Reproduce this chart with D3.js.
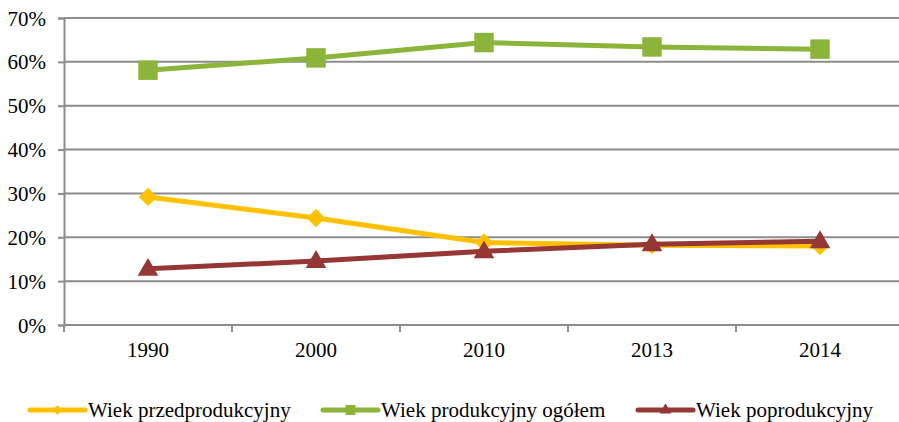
<!DOCTYPE html>
<html>
<head>
<meta charset="utf-8">
<script src="https://cdn.jsdelivr.net/npm/d3@7"></script>
<style>
  body { margin: 0; background: #fff; }
  svg { display: block; }
</style>
</head>
<body>
<script>
// data
const years = ["1990", "2000", "2010", "2013", "2014"];
const przed = [29.2, 24.4, 18.8, 18.2, 18.0];
const prod = [58.1, 60.9, 64.4, 63.4, 62.9];
const poprod = [12.8, 14.6, 16.8, 18.4, 19.1];
const yTicks = [0, 10, 20, 30, 40, 50, 60, 70];
const seriesNames = ["Wiek przedprodukcyjny", "Wiek produkcyjny ogółem", "Wiek poprodukcyjny"];

const w = 899, h = 422;
const plotLeft = 64, plotTop = 18, plotBottom = 325;
const band = 168;
const fontSize = "21px";
const fontFamily = "'Liberation Serif', 'DejaVu Serif', serif";

const series = [
  { name: seriesNames[0], values: przed, color: "#FFC000", marker: d3.symbolDiamond2, size: 215, legendSize: 60 },
  { name: seriesNames[1], values: prod, color: "#8CB43A", marker: d3.symbolSquare, size: 380, legendSize: 100 },
  { name: seriesNames[2], values: poprod, color: "#953735", marker: d3.symbolTriangle, size: 185, legendSize: 60 }
];

const svg = d3.select("body").append("svg")
  .attr("width", w)
  .attr("height", h);

const xScale = d3.scaleBand()
  .domain(years)
  .range([plotLeft, plotLeft + band * years.length]);

const yScale = d3.scaleLinear()
  .domain([0, 70])
  .range([plotBottom, plotTop]);

// gridlines
svg.append("g")
  .selectAll("line")
  .data(yTicks.slice(1))
  .enter()
  .append("line")
  .attr("x1", plotLeft)
  .attr("x2", plotLeft + band * years.length)
  .attr("y1", d => yScale(d))
  .attr("y2", d => yScale(d))
  .attr("stroke", "#8c8c8c")
  .attr("stroke-width", 2);

// y axis
const yAxis = d3.axisLeft(yScale)
  .tickValues(yTicks)
  .tickSize(6)
  .tickPadding(12)
  .tickFormat(d => d + "%");

const gy = svg.append("g")
  .attr("transform", `translate(${plotLeft}, 0)`)
  .call(yAxis);
gy.select(".domain").attr("stroke", "#8c8c8c").attr("stroke-width", 2);
gy.selectAll(".tick line").attr("stroke", "#8c8c8c").attr("stroke-width", 2);
gy.selectAll("text")
  .style("font-family", fontFamily)
  .style("font-size", fontSize)
  .attr("fill", "#000")
  .attr("dy", "0.34em");

// x axis
const xAxis = d3.axisBottom(xScale).tickSize(0).tickPadding(17);
const gx = svg.append("g")
  .attr("transform", `translate(0, ${plotBottom})`)
  .call(xAxis);
gx.select(".domain").remove();
gx.selectAll("text")
  .style("font-family", fontFamily)
  .style("font-size", fontSize)
  .attr("fill", "#000");

svg.append("line")
  .attr("x1", plotLeft).attr("x2", plotLeft + band * years.length)
  .attr("y1", plotBottom).attr("y2", plotBottom)
  .attr("stroke", "#8c8c8c").attr("stroke-width", 2);

// x category boundary ticks
svg.append("g")
  .selectAll("line")
  .data(years.concat(["end"]))
  .enter()
  .append("line")
  .attr("x1", (d, i) => plotLeft + band * i)
  .attr("x2", (d, i) => plotLeft + band * i)
  .attr("y1", plotBottom)
  .attr("y2", plotBottom + 7)
  .attr("stroke", "#8c8c8c")
  .attr("stroke-width", 2);

const line = d3.line()
  .x((d, i) => xScale(years[i]) + xScale.bandwidth() / 2)
  .y(d => yScale(d));

// draw green first, then yellow, then red on top
const order = [series[1], series[0], series[2]];
order.forEach(s => {
  svg.append("path")
    .datum(s.values)
    .attr("d", line)
    .attr("fill", "none")
    .attr("stroke", s.color)
    .attr("stroke-width", 5);

  svg.append("g")
    .selectAll("path")
    .data(s.values)
    .enter()
    .append("path")
    .attr("transform", (d, i) => `translate(${xScale(years[i]) + xScale.bandwidth() / 2}, ${yScale(d) + (s.marker === d3.symbolTriangle ? 1 : 0)})`)
    .attr("d", d3.symbol().type(s.marker).size(s.size))
    .attr("fill", s.color);
});

// legend
const legendX = [30, 323, 638];
const legend = svg.append("g");
series.forEach((s, i) => {
  const g = legend.append("g").attr("transform", `translate(${legendX[i]}, 410)`);
  g.append("line")
    .attr("x1", 0).attr("x2", 55)
    .attr("y1", 0).attr("y2", 0)
    .attr("stroke", s.color)
    .attr("stroke-width", 5)
    .attr("stroke-linecap", "round");
  g.append("path")
    .attr("transform", `translate(27.5, 0)`)
    .attr("d", d3.symbol().type(s.marker).size(s.legendSize))
    .attr("fill", s.color);
  g.append("text")
    .attr("x", 58)
    .attr("y", 0)
    .attr("dy", "0.34em")
    .style("font-family", fontFamily)
    .style("font-size", fontSize)
    .attr("fill", "#000")
    .text(s.name);
});
</script>
</body>
</html>
